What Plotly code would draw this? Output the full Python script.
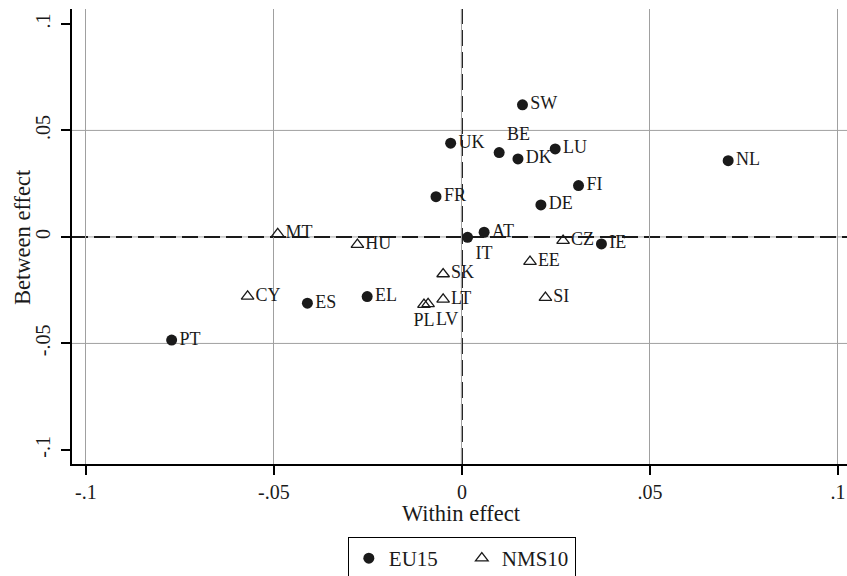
import plotly.graph_objects as go

# ---- data ----
eu15_names = ['SW', 'UK', 'BE', 'DK', 'LU', 'FI', 'FR', 'DE', 'AT', 'IT', 'IE', 'NL', 'ES', 'EL', 'PT']
eu15_within = [0.0161, -0.0030, 0.0099, 0.0149, 0.0248, 0.0310, -0.0069, 0.0210, 0.0059, 0.0015,
               0.0371, 0.0708, -0.0411, -0.0252, -0.0772]
eu15_between = [0.0620, 0.0440, 0.0396, 0.0366, 0.0413, 0.0241, 0.0189, 0.0150, 0.0022, -0.0002,
                -0.0033, 0.0358, -0.0311, -0.0280, -0.0484]

nms10_names = ['CZ', 'EE', 'SI', 'SK', 'LT', 'PL', 'LV', 'MT', 'HU', 'CY']
nms10_within = [0.0269, 0.0181, 0.0222, -0.0050, -0.0050, -0.0101, -0.0090, -0.0490, -0.0278, -0.0570]
nms10_between = [-0.0017, -0.0116, -0.0285, -0.0174, -0.0293, -0.0318, -0.0314, 0.0014, -0.0036, -0.0279]

tick_vals = [-0.1, -0.05, 0, 0.05, 0.1]
tick_text = ['-.1', '-.05', '0', '.05', '.1']
y_grid_vals = [-0.05, 0, 0.05]

# ---- style ----
FONT = 'Liberation Serif'
INK = '#1a1a1a'
label_pos = {'BE': 'top right', 'IT': 'bottom right', 'PL': 'bottom center', 'LV': 'bottom right'}


def positions(names):
    return [label_pos.get(n, 'middle right') for n in names]


fig = go.Figure()
fig.add_trace(go.Scatter(
    x=eu15_within, y=eu15_between, mode='markers+text', name='EU15',
    text=eu15_names, textposition=positions(eu15_names),
    textfont=dict(family=FONT, size=18, color=INK),
    marker=dict(symbol='circle', size=11, color=INK, line=dict(width=0)),
    cliponaxis=False,
))
fig.add_trace(go.Scatter(
    x=nms10_within, y=nms10_between, mode='markers+text', name='NMS10',
    text=nms10_names, textposition=positions(nms10_names),
    textfont=dict(family=FONT, size=18, color=INK),
    marker=dict(symbol='triangle-up-open', size=11, color=INK, line=dict(width=1.3, color=INK)),
    cliponaxis=False,
))

shapes = []
for v in y_grid_vals:
    shapes.append(dict(type='line', xref='paper', x0=0, x1=1, yref='y', y0=v, y1=v,
                       line=dict(color='#a0a0a0', width=1), layer='between'))
shapes.append(dict(type='line', xref='x', x0=0, x1=0, yref='paper', y0=0, y1=1,
                   line=dict(color=INK, width=2, dash='16px,6px'), layer='between'))
shapes.append(dict(type='line', xref='paper', x0=0, x1=1, yref='y', y0=0, y1=0,
                   line=dict(color=INK, width=2, dash='16px,6px'), layer='between'))

axis_common = dict(
    tickvals=tick_vals, ticktext=tick_text, ticks='outside', ticklen=9, tickwidth=1.5,
    tickcolor='black', showline=True, linecolor='black', linewidth=1.5, zeroline=False,
    tickfont=dict(family=FONT, size=20, color=INK), mirror=False,
)

fig.update_layout(
    width=847, height=576,
    margin=dict(l=72, r=0, t=9, b=112, pad=0, autoexpand=False),
    paper_bgcolor='white', plot_bgcolor='white',
    font=dict(family=FONT, color=INK),
    xaxis=dict(range=[-0.1037, 0.1024], showgrid=True, gridcolor='#a0a0a0', gridwidth=1, **axis_common),
    yaxis=dict(range=[-0.1066, 0.1070], showgrid=False, tickangle=-90, ticklabelstandoff=3, **axis_common),
    shapes=shapes,
    showlegend=True,
    legend=dict(orientation='h', x=0.503, xanchor='center', y=-0.1604, yanchor='top',
                bordercolor='black', borderwidth=1, bgcolor='white',
                font=dict(family=FONT, size=21, color=INK), itemwidth=30,
                entrywidth=68, entrywidthmode='pixels'),
    annotations=[
        dict(text='Within effect', xref='x', x=0, yref='paper', y=0, yshift=-49,
             xanchor='center', yanchor='middle', showarrow=False,
             font=dict(family=FONT, size=22.5, color=INK)),
        dict(text='Between effect', xref='paper', x=0, xshift=-49, yref='y', y=0,
             xanchor='center', yanchor='middle', textangle=-90, showarrow=False,
             font=dict(family=FONT, size=22.5, color=INK)),
    ],
)

fig.write_html('out.html')
